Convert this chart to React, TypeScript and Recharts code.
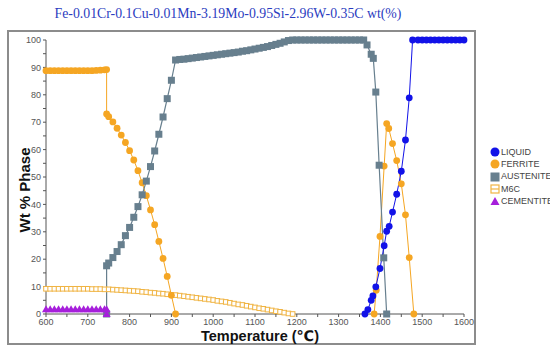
import React from "react";
import { LineChart, Line, XAxis, YAxis } from "recharts";

const title = "Fe-0.01Cr-0.1Cu-0.01Mn-3.19Mo-0.95Si-2.96W-0.35C wt(%)";

const xTicks = [600, 650, 700, 750, 800, 850, 900, 950, 1000, 1050, 1100, 1150, 1200, 1250, 1300, 1350, 1400, 1450, 1500, 1550, 1600];
const yTicks = [0, 5, 10, 15, 20, 25, 30, 35, 40, 45, 50, 55, 60, 65, 70, 75, 80, 85, 90, 95, 100];

// LIQUID
const liquidT = [1363, 1370, 1378, 1382, 1389, 1399, 1409, 1415, 1421, 1429, 1439, 1450, 1460, 1469, 1477, 1490, 1500, 1510, 1520, 1530, 1540, 1550, 1560, 1570, 1580, 1590, 1600];
const liquidW = [0, 1.6, 5, 6.6, 9.9, 16.6, 24.9, 30.2, 32, 37.2, 43.7, 52.1, 63.5, 78.9, 100, 100, 100, 100, 100, 100, 100, 100, 100, 100, 100, 100, 100];

// FERRITE (low temperature part and high temperature part)
const ferriteLowT = [600, 610, 620, 630, 640, 650, 660, 670, 680, 690, 700, 710, 720, 730, 740, 745, 745, 750, 760, 770, 780, 790, 800, 810, 820, 830, 840, 850, 860, 870, 880, 890, 900, 910];
const ferriteLowW = [88.8, 88.8, 88.8, 88.8, 88.8, 88.8, 88.8, 88.8, 88.8, 88.8, 88.8, 88.8, 88.9, 89.0, 89.1, 89.2, 73, 72, 70.1, 67.8, 65.3, 62.6, 59.6, 56.2, 52.3, 47.9, 43.2, 38, 32.6, 26.5, 20.3, 13.7, 6.8, 0];
const ferriteHighT = [1385, 1390, 1399, 1409, 1415, 1420, 1429, 1439, 1450, 1460, 1469, 1480];
const ferriteHighW = [0, 8.7, 28.3, 54, 69.5, 67.7, 62.2, 56, 47.5, 36.2, 20.6, 0];

// AUSTENITE
const austeniteT = [
  745, 745, 750, 760, 770, 780, 790, 800, 810, 820, 830, 840, 850, 860, 870, 880, 890, 900, 910,
  920, 930, 940, 950, 960, 970, 980, 990, 1000, 1010, 1020, 1030, 1040, 1050, 1060, 1070, 1080, 1090,
  1100, 1110, 1120, 1130, 1140, 1150, 1160, 1170, 1180,
  1190, 1200, 1210, 1220, 1230, 1240, 1250, 1260, 1270, 1280, 1290, 1300, 1310, 1320, 1330, 1340, 1350, 1360,
  1368, 1378, 1383, 1389, 1397, 1408, 1415,
];
const austeniteW = [
  0, 17.6, 18.6, 20.6, 22.8, 25.3, 28.6, 31.6, 35.3, 39.2, 43.5, 48.5, 53.8, 59.5, 65.6, 71.9, 78.6, 85.3, 92.7,
  92.9, 93.0, 93.2, 93.4, 93.6, 93.8, 94.0, 94.2, 94.4, 94.6, 94.8, 95.0, 95.2, 95.4, 95.6, 95.9, 96.1, 96.4,
  96.7, 97.0, 97.3, 97.6, 98.0, 98.4, 98.8, 99.3, 99.8,
  100, 100, 100, 100, 100, 100, 100, 100, 100, 100, 100, 100, 100, 100, 100, 100, 100, 100,
  98.2, 94.8, 93.3, 81, 54.3, 20.5, 0,
];

// M6C
const m6cT = [
  600, 610, 620, 630, 640, 650, 660, 670, 680, 690, 700, 710, 720, 730, 740, 750, 760, 770, 780, 790,
  800, 810, 820, 830, 840, 850, 860, 870, 880, 890, 900, 910, 920, 930, 940, 950, 960, 970, 980, 990,
  1000, 1010, 1020, 1030, 1040, 1050, 1060, 1070, 1080, 1090, 1100, 1110, 1120, 1130, 1140, 1150, 1160, 1170, 1180, 1190,
];
const m6cW = [
  9.2, 9.2, 9.2, 9.2, 9.2, 9.2, 9.2, 9.2, 9.2, 9.2, 9.2, 9.1, 9.1, 9.1, 9.0, 9.0, 8.9, 8.8, 8.7, 8.6,
  8.5, 8.4, 8.3, 8.1, 8.0, 7.8, 7.7, 7.5, 7.4, 7.2, 7.0, 6.9, 6.7, 6.5, 6.3, 6.1, 5.9, 5.7, 5.5, 5.3,
  5.1, 4.8, 4.6, 4.4, 4.1, 3.8, 3.5, 3.3, 3.0, 2.7, 2.4, 2.1, 1.9, 1.6, 1.3, 1.0, 0.8, 0.5, 0.2, 0,
];

// CEMENTITE
const cementiteT = [600, 610, 620, 630, 640, 650, 660, 670, 680, 690, 700, 710, 720, 730, 740, 745, 745];
const cementiteW = [1.7, 1.7, 1.7, 1.7, 1.7, 1.7, 1.7, 1.7, 1.7, 1.7, 1.7, 1.7, 1.7, 1.7, 1.7, 1.7, 0];

const LIQ = "#1212E8";
const FER = "#F5A623";
const AUS = "#677F8E";
const M6C = "#F0B443";
const CEM = "#A61FDB";

const zip = (t: number[], w: number[]) => t.map((x, i) => ({ t: x, w: w[i] }));

const circleDot = (color: string) => (p: any) => (
  <circle key={`c${p.index}`} cx={p.cx} cy={p.cy} r={3.4} fill={color} />
);
const squareDot = (p: any) => (
  <rect key={`s${p.index}`} x={p.cx - 3.5} y={p.cy - 3.5} width={7} height={7} fill={AUS} />
);
const hollowDot = (p: any) => (
  <rect key={`h${p.index}`} x={p.cx - 2.3} y={p.cy - 2.3} width={4.6} height={4.6} fill="#fff" stroke={M6C} strokeWidth={1} />
);
const triDot = (p: any) => (
  <polygon
    key={`t${p.index}`}
    points={`${p.cx},${p.cy - 4} ${p.cx - 4},${p.cy + 3} ${p.cx + 4},${p.cy + 3}`}
    fill={CEM}
  />
);

const legendItems = [
  { name: "LIQUID", icon: <circle cx={5} cy={5} r={4.5} fill={LIQ} /> },
  { name: "FERRITE", icon: <circle cx={5} cy={5} r={4.5} fill={FER} /> },
  { name: "AUSTENITE", icon: <rect x={0.5} y={0.5} width={9} height={9} fill={AUS} /> },
  {
    name: "M6C",
    icon: (
      <g>
        <rect x={1} y={1} width={8} height={8} fill="#fff" stroke={M6C} strokeWidth={1.2} />
        <line x1={1} y1={5} x2={9} y2={5} stroke={M6C} strokeWidth={1.2} />
      </g>
    ),
  },
  { name: "CEMENTITE", icon: <polygon points="5,1 0.5,9 9.5,9" fill={CEM} /> },
];

const tickFont = { fill: "#555", fontSize: 9, fontFamily: "Liberation Sans, Arial, sans-serif" };

export default function App() {
  return (
    <div style={{ position: "absolute", left: 0, top: 0, width: 550, height: 352, overflow: "hidden", background: "#fff" }}>
      <div
        style={{
          position: "absolute",
          left: 0,
          width: 456,
          top: 6,
          textAlign: "center",
          fontFamily: "Liberation Serif, Times New Roman, serif",
          fontSize: 13.8,
          lineHeight: 1.2,
          color: "#2B3CC0",
          whiteSpace: "nowrap",
        }}
      >
        {title}
      </div>
      <div
        style={{
          position: "absolute",
          left: 7,
          top: 30,
          width: 469,
          height: 315,
          border: "2px solid #8c8c8c",
          boxSizing: "border-box",
        }}
      />
      <div style={{ position: "absolute", left: 0, top: 0 }}>
        <LineChart width={550} height={352} margin={{ top: 40, right: 86, bottom: 18, left: 0 }}>
          <XAxis
            type="number"
            dataKey="t"
            domain={[600, 1600]}
            ticks={xTicks}
            interval={0}
            tickFormatter={(v: number) => (v % 100 === 0 ? String(v) : "")}
            tickSize={3}
            tick={tickFont}
            stroke="#555"
            height={20}
          />
          <YAxis
            type="number"
            domain={[0, 100]}
            ticks={yTicks}
            interval={0}
            tickFormatter={(v: number) => (v % 10 === 0 ? String(v) : "")}
            tickSize={3}
            tick={tickFont}
            stroke="#555"
            width={46}
          />
          <Line data={zip(m6cT, m6cW)} dataKey="w" stroke={M6C} strokeWidth={1} dot={hollowDot} isAnimationActive={false} />
          <Line data={zip(ferriteLowT, ferriteLowW)} dataKey="w" stroke={FER} strokeWidth={1} dot={circleDot(FER)} isAnimationActive={false} />
          <Line data={zip(ferriteHighT, ferriteHighW)} dataKey="w" stroke={FER} strokeWidth={1} dot={circleDot(FER)} isAnimationActive={false} />
          <Line data={zip(austeniteT, austeniteW)} dataKey="w" stroke={AUS} strokeWidth={1.2} dot={squareDot} isAnimationActive={false} />
          <Line data={zip(liquidT, liquidW)} dataKey="w" stroke={LIQ} strokeWidth={1} dot={circleDot(LIQ)} isAnimationActive={false} />
          <Line data={zip(cementiteT, cementiteW)} dataKey="w" stroke={CEM} strokeWidth={1} dot={triDot} isAnimationActive={false} />
        </LineChart>
      </div>
      <div
        style={{
          position: "absolute",
          left: 24,
          top: 190,
          transform: "translate(-50%, -50%) rotate(-90deg)",
          fontFamily: "Liberation Sans, Arial, sans-serif",
          fontWeight: "bold",
          fontSize: 15,
          lineHeight: 1,
          color: "#111",
          whiteSpace: "nowrap",
        }}
      >
        Wt % Phase
      </div>
      <div
        style={{
          position: "absolute",
          left: 260,
          top: 336,
          transform: "translate(-50%, -50%)",
          fontFamily: "Liberation Sans, DejaVu Sans, Arial, sans-serif",
          fontWeight: "bold",
          fontSize: 14.5,
          lineHeight: 1,
          color: "#111",
          whiteSpace: "nowrap",
        }}
      >
        Temperature (℃)
      </div>
      <div style={{ position: "absolute", left: 490, top: 146 }}>
        {legendItems.map((it) => (
          <div key={it.name} style={{ display: "flex", alignItems: "center", height: 12.3 }}>
            <svg width={10} height={10} style={{ display: "block" }}>
              {it.icon}
            </svg>
            <span
              style={{
                marginLeft: 1,
                fontFamily: "Liberation Sans, Arial, sans-serif",
                fontSize: 9,
                lineHeight: 1,
                color: "#444",
                whiteSpace: "nowrap",
              }}
            >
              {it.name}
            </span>
          </div>
        ))}
      </div>
    </div>
  );
}
